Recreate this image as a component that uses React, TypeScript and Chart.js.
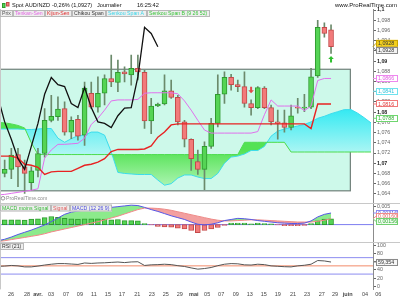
import React, { useEffect, useRef } from "react";
import { Chart, registerables } from "chart.js";

Chart.register(...registerables);

const FONT = '"Liberation Sans", Arial, Helvetica, sans-serif';

// ---------- Price candles (x = 0..49) ----------
const opens = [
  1.0680, 1.0688, 1.0717, 1.0693, 1.0662, 1.0686, 1.0719, 1.0784, 1.0791, 1.0807,
  1.0761, 1.0786, 1.0755, 1.0837, 1.0810, 1.0837, 1.0866, 1.0858, 1.0879, 1.0873,
  1.0886, 1.0878, 1.0783, 1.0812, 1.0816, 1.0842, 1.0829, 1.0781, 1.0747, 1.0703,
  1.0688, 1.0733, 1.0778, 1.0835, 1.0868, 1.0854, 1.0850, 1.0817, 1.0809, 1.0847,
  1.0809, 1.0781, 1.0779, 1.0770, 1.0809, 1.0808, 1.0810, 1.0871, 1.0966, 1.0961,
];
const highs = [
  1.0706, 1.0729, 1.0729, 1.0706, 1.0693, 1.0729, 1.0807, 1.0833, 1.0830, 1.0820,
  1.0791, 1.0794, 1.0859, 1.0859, 1.0869, 1.0873, 1.0912, 1.0902, 1.0889, 1.0912,
  1.0912, 1.0882, 1.0827, 1.0818, 1.0873, 1.0863, 1.0833, 1.0784, 1.0748, 1.0726,
  1.0742, 1.0788, 1.0873, 1.0879, 1.0874, 1.0863, 1.0879, 1.0824, 1.0850, 1.0850,
  1.0814, 1.0804, 1.0804, 1.0814, 1.0827, 1.0835, 1.0886, 1.0980, 1.0975, 1.0971,
];
const lows = [
  1.0673, 1.0670, 1.0654, 1.0641, 1.0647, 1.0673, 1.0712, 1.0781, 1.0784, 1.0755,
  1.0748, 1.0745, 1.0735, 1.0807, 1.0800, 1.0814, 1.0850, 1.0840, 1.0859, 1.0853,
  1.0863, 1.0768, 1.0758, 1.0811, 1.0814, 1.0827, 1.0775, 1.0732, 1.0686, 1.0678,
  1.0648, 1.0729, 1.0771, 1.0817, 1.0843, 1.0840, 1.0810, 1.0794, 1.0807, 1.0807,
  1.0775, 1.0747, 1.0761, 1.0765, 1.0798, 1.0801, 1.0807, 1.0868, 1.0947, 1.0915,
];
const closes = [
  1.0688, 1.0716, 1.0693, 1.0680, 1.0685, 1.0719, 1.0784, 1.0792, 1.0806, 1.0761,
  1.0784, 1.0753, 1.0847, 1.0810, 1.0837, 1.0866, 1.0859, 1.0878, 1.0875, 1.0886,
  1.0879, 1.0783, 1.0812, 1.0816, 1.0842, 1.0829, 1.0781, 1.0747, 1.0709, 1.0688,
  1.0733, 1.0778, 1.0835, 1.0868, 1.0854, 1.0850, 1.0817, 1.0809, 1.0848, 1.0809,
  1.0781, 1.0778, 1.0770, 1.0793, 1.0808, 1.0809, 1.0869, 1.0966, 1.0954, 1.0928,
];

// ---------- Ichimoku (first value at x = -1) ----------
const lineStart = -1;
const tenkan = [
  1.0638,
  1.0639, 1.0641, 1.0643, 1.0645, 1.0647, 1.0650, 1.0710, 1.0726, 1.0737, 1.0737,
  1.0738, 1.0739, 1.0749, 1.0776, 1.0788, 1.0804, 1.0822, 1.0824, 1.0824, 1.0824,
  1.0825, 1.0837, 1.0838, 1.0838, 1.0838, 1.0838, 1.0836, 1.0822, 1.0804, 1.0784,
  1.0765, 1.0759, 1.0759, 1.0759, 1.0759, 1.0759, 1.0759, 1.0759, 1.0762, 1.0795,
  1.0824, 1.0812, 1.0812, 1.0812, 1.0812, 1.0803, 1.0812, 1.0862, 1.0866, 1.0866,
];
const kijun = [
  1.0714,
  1.0714, 1.0714, 1.0710, 1.0698, 1.0696, 1.0692, 1.0678, 1.0683, 1.0684, 1.0684,
  1.0684, 1.0690, 1.0696, 1.0698, 1.0702, 1.0709, 1.0723, 1.0727, 1.0727, 1.0727,
  1.0727, 1.0728, 1.0734, 1.0751, 1.0761, 1.0775, 1.0777, 1.0777, 1.0777, 1.0777,
  1.0777, 1.0777, 1.0777, 1.0777, 1.0777, 1.0777, 1.0777, 1.0777, 1.0777, 1.0777,
  1.0777, 1.0777, 1.0777, 1.0777, 1.0777, 1.0777, 1.0768, 1.0816, 1.0816, 1.0816,
];
const chikouShift = 26;
const cloudStart = -1;
const senkouA = [
  1.0767,
  1.0767, 1.0767, 1.0767, 1.0766, 1.0766, 1.0767, 1.0768, 1.0768, 1.0749, 1.0741,
  1.0748, 1.0754, 1.0755, 1.0761, 1.0761, 1.0755, 1.0722, 1.0682, 1.0680, 1.0679,
  1.0678, 1.0678, 1.0678, 1.0667, 1.0657, 1.0660, 1.0671, 1.0677, 1.0677, 1.0673,
  1.0670, 1.0670, 1.0680, 1.0700, 1.0712, 1.0714, 1.0718, 1.0725, 1.0725, 1.0733,
  1.0753, 1.0763, 1.0767, 1.0770, 1.0773, 1.0776, 1.0781, 1.0788, 1.0792, 1.0797,
  1.0801, 1.0805, 1.0805, 1.0798, 1.0789, 1.0779,
];
const senkouB = [
  1.0780,
  1.0779, 1.0777, 1.0774, 1.0769, 1.0740, 1.0717, 1.0717, 1.0717, 1.0717, 1.0717,
  1.0717, 1.0717, 1.0717, 1.0717, 1.0717, 1.0717, 1.0717, 1.0717, 1.0717, 1.0717,
  1.0717, 1.0717, 1.0717, 1.0717, 1.0717, 1.0717, 1.0717, 1.0717, 1.0717, 1.0717,
  1.0717, 1.0717, 1.0717, 1.0717, 1.0717, 1.0717, 1.0741, 1.0741, 1.0741, 1.0741,
  1.0741, 1.0741, 1.0741, 1.0722, 1.0722, 1.0722, 1.0722, 1.0722, 1.0722, 1.0722,
  1.0722, 1.0722, 1.0722, 1.0722, 1.0722, 1.0722,
];
const senkouAEnd = 1.0841;
const senkouBEnd = 1.0788;

// ---------- MACD (lines start at x = -1, histogram at x = 0) ----------
const macdLine = [
  -0.0044,
  -0.0040, -0.0034, -0.0027, -0.0021, -0.0015, -0.0008, -0.0001, 0.0008, 0.0018, 0.0028,
  0.0034, 0.0037, 0.0040, 0.0041, 0.0043, 0.0045, 0.0047, 0.0049, 0.0051, 0.0053,
  0.0052, 0.0047, 0.0041, 0.0036, 0.0030, 0.0024, 0.0019, 0.0014, 0.0007, 0.0001,
  -0.0001, 0.0001, 0.0005, 0.0011, 0.0014, 0.0017, 0.0016, 0.0014, 0.0011, 0.0009,
  0.0007, 0.0005, 0.0004, 0.0003, 0.0003, 0.0004, 0.0010, 0.0021, 0.0028, 0.00316,
];
const signalLine = [
  -0.0046,
  -0.0044, -0.0041, -0.0038, -0.0035, -0.0032, -0.0029, -0.0025, -0.0020, -0.0016, -0.0012,
  -0.0008, -0.0004, 0.0000, 0.0004, 0.0008, 0.0013, 0.0018, 0.0023, 0.0029, 0.0035,
  0.0041, 0.0045, 0.0045, 0.0044, 0.0042, 0.0039, 0.0035, 0.0031, 0.0027, 0.0023,
  0.0019, 0.0015, 0.0012, 0.0010, 0.0010, 0.0011, 0.0012, 0.0013, 0.0013, 0.0012,
  0.0011, 0.0010, 0.0009, 0.0008, 0.0007, 0.0007, 0.0007, 0.0009, 0.0012, 0.0016,
];
const macdHist = [
  0.0013, 0.0013, 0.0013, 0.0012, 0.0015, 0.0016, 0.0019, 0.0022, 0.0020, 0.0017,
  0.0016, 0.0015, 0.0016, 0.0016, 0.0016, 0.0015, 0.0013, 0.0014, 0.0011, 0.0011,
  0.0010, 0.0003, -0.0001, -0.0005, -0.0006, -0.0007, -0.0010, -0.0012, -0.0016, -0.0022,
  -0.0016, -0.0012, -0.0008, -0.0002, 0.0004, 0.0004, 0.0004, 0.0002, 0.0004, 0.0003,
  0.0002, -0.0001, -0.0003, -0.0003, -0.0003, -0.0002, 0.0003, 0.0010, 0.0015, 0.00156,
];

// ---------- RSI(21) (first value at x = -1) ----------
const rsi = [
  48.8,
  49.5, 51, 50, 47.5, 47.5, 49.5, 52, 54, 55.5, 55.5,
  54.5, 53.5, 57, 56, 57, 57.5, 58.5, 59.3, 58, 59.5,
  60, 51, 52.5, 53, 54, 53, 50.5, 48.5, 45, 42,
  43.5, 46, 50.5, 54, 55.5, 55, 52.5, 52, 54, 53,
  50, 49, 48, 47.5, 50, 51.5, 54, 63, 62, 59.354,
];
const rsiHigh = 70;
const rsiMid = 50;
const rsiLow = 30;

// ---------- drawings ----------
const zone = { fromX: -2, toX: 51.9, top: 1.0884, bottom: 1.0646 };
const signals = [
  { x: 37, price: 1.0843, dir: "down" },
  { x: 49, price: 1.0904, dir: "up" },
];

// ---------- axes ----------
const xTickPos = [0.95, 3.35, 5.0, 6.95, 9.2, 11.3, 13.4, 15.5, 17.6, 19.9, 22.1, 24.2, 26.3, 28.4, 30.4, 32.5, 34.7, 36.8, 38.9, 41.0, 43.3, 45.4, 47.6, 49.6, 51.5, 54.1, 56.1];
const xTickLabels = ["26", "28", "avr.", "03", "07", "09", "11", "15", "17", "21", "23", "25", "29", "mai", "05", "07", "09", "13", "15", "19", "21", "23", "27", "29", "juin", "04", "06"];
const monthLabels = ["avr.", "mai", "juin"];
const priceTicks = [1.064, 1.066, 1.068, 1.07, 1.072, 1.074, 1.076, 1.078, 1.08, 1.082, 1.084, 1.086, 1.088, 1.09, 1.092, 1.094, 1.096, 1.098, 1.1];
const macdTicks = [0.005];
const rsiTicks = [0, 20, 40, 60, 80, 100];

const X_MIN = -0.7, X_MAX = 55.3;
const PRICE_MIN = 1.06216, PRICE_MAX = 1.1002;
const MACD_MIN = -0.00484, MACD_MAX = 0.00582;
const RSI_MIN = -7.3, RSI_MAX = 107.3;

const titleParts: [string, number][] = [["Spot AUD/NZD", 12], ["-0,26% (1,0927)", 52], ["Journalier", 97], ["16:25:42", 137]];

const GREEN = "#55d455", GREEN_B = "#2f9a2f", RED = "#f27a7a", RED_B = "#c44a4a";

function fmt(v: number, d?: number) {
  const s = d === undefined ? String(+v.toFixed(6)) : v.toFixed(d);
  return s.replace(".", ",");
}

function series(arr: number[], start: number) {
  return arr.map((v, k) => ({ x: start + k, y: v }));
}

type Marker = { text: string; value: number; bg: string; border: string; fg: string; y?: number; py?: number };

function declutter(items: Marker[], gap: number) {
  items.sort((a, b) => (a.py as number) - (b.py as number));
  const clusters: { items: Marker[]; end: number }[] = [];
  for (const it of items) {
    const last = clusters[clusters.length - 1];
    if (last && (it.py as number) < last.end + gap) {
      last.items.push(it);
      last.end = last.end + gap;
    } else clusters.push({ items: [it], end: it.py as number });
  }
  for (const c of clusters) {
    const mean = c.items.reduce((s, it) => s + (it.py as number), 0) / c.items.length;
    const top = mean - ((c.items.length - 1) * gap) / 2;
    c.items.forEach((it, k) => (it.y = top + k * gap));
  }
}

function drawLegendRow(ctx: CanvasRenderingContext2D, items: [string, string][], x: number, yTop: number, h: number) {
  ctx.font = `5.2px ${FONT}`;
  ctx.textBaseline = "middle";
  ctx.textAlign = "left";
  let cx = x;
  for (const [text, color] of items) {
    const w = Math.ceil(ctx.measureText(text).width) + 4;
    ctx.fillStyle = "#eeeeee";
    ctx.fillRect(cx, yTop, w, h);
    ctx.strokeStyle = "#b9b9b9";
    ctx.lineWidth = 1;
    ctx.strokeRect(cx + 0.5, yTop + 0.5, w - 1, h - 1);
    ctx.fillStyle = color;
    ctx.fillText(text, cx + 2, yTop + h / 2 + 0.5);
    cx += w;
  }
}

function drawMarkers(ctx: CanvasRenderingContext2D, scale: any, items: Marker[], gap: number) {
  items.forEach((it) => (it.py = scale.getPixelForValue(it.value)));
  declutter(items, gap);
  ctx.font = `5.3px ${FONT}`;
  ctx.textBaseline = "middle";
  ctx.textAlign = "left";
  for (const it of items) {
    const y = it.y as number;
    ctx.strokeStyle = it.border;
    ctx.lineWidth = 1;
    ctx.beginPath();
    ctx.moveTo(373, it.py as number);
    ctx.lineTo(376, y);
    ctx.stroke();
    ctx.fillStyle = it.bg;
    ctx.fillRect(376, y - 3.5, 22, 7);
    ctx.strokeRect(376.5, Math.round(y - 3.5) + 0.5, 21, 6);
    ctx.fillStyle = it.fg;
    ctx.fillText(it.text, 378, y + 0.3);
  }
}

const decor = {
  id: "decor",
  beforeDraw(chart: any) {
    const { ctx } = chart;
    ctx.save();
    ctx.fillStyle = "#ffffff";
    ctx.fillRect(0, 0, chart.width, chart.height);
    ctx.restore();
  },
  beforeDatasetsDraw(chart: any) {
    const { ctx, chartArea, scales } = chart;
    const x = scales.x, y = scales.yMain;
    const l = x.getPixelForValue(zone.fromX), r = x.getPixelForValue(zone.toX);
    const t = y.getPixelForValue(zone.top), b = y.getPixelForValue(zone.bottom);
    ctx.save();
    ctx.beginPath();
    ctx.rect(chartArea.left, y.top, chartArea.right - chartArea.left, y.bottom - y.top);
    ctx.clip();
    ctx.fillStyle = "#cdf9ea";
    ctx.fillRect(l, t, r - l, b - t);
    ctx.strokeStyle = "#6f807a";
    ctx.lineWidth = 1.2;
    ctx.strokeRect(l, t, r - l, b - t);
    ctx.restore();
  },
  afterDatasetsDraw(chart: any) {
    const { ctx, scales } = chart;
    ctx.save();
    for (const s of signals) {
      const px = scales.x.getPixelForValue(s.x);
      const py = scales.yMain.getPixelForValue(s.price);
      const d = s.dir === "up" ? -1 : 1;
      ctx.fillStyle = s.dir === "up" ? "#2fbf2f" : "#e04a4a";
      ctx.beginPath();
      ctx.moveTo(px - 1, py - 3.5 * d);
      ctx.lineTo(px + 1, py - 3.5 * d);
      ctx.lineTo(px + 1, py);
      ctx.lineTo(px + 2.8, py);
      ctx.lineTo(px, py + 3 * d);
      ctx.lineTo(px - 2.8, py);
      ctx.lineTo(px - 1, py);
      ctx.closePath();
      ctx.fill();
    }
    ctx.restore();
  },
  afterDraw(chart: any) {
    const { ctx, scales, chartArea } = chart;
    const yM = scales.yMain, yD = scales.yMacd, yR = scales.yRsi;
    ctx.save();
    // panel separators and frame
    ctx.strokeStyle = "#c8c8c8";
    ctx.lineWidth = 1;
    ctx.beginPath();
    for (const yy of [yD.top, yR.top]) {
      ctx.moveTo(0, Math.round(yy) + 0.5);
      ctx.lineTo(400, Math.round(yy) + 0.5);
    }
    ctx.moveTo(0.5, chartArea.top);
    ctx.lineTo(0.5, chartArea.bottom);
    ctx.stroke();

    // header icon
    ctx.fillStyle = GREEN;
    ctx.strokeStyle = GREEN_B;
    ctx.fillRect(2.5, 3.5, 2.5, 4);
    ctx.strokeRect(2.5, 3.5, 2.5, 4);
    ctx.fillStyle = RED;
    ctx.strokeStyle = RED_B;
    ctx.fillRect(6.5, 2.5, 2.5, 3.5);
    ctx.strokeRect(6.5, 2.5, 2.5, 3.5);

    // header title
    ctx.font = `5.6px ${FONT}`;
    ctx.fillStyle = "#111";
    ctx.textBaseline = "middle";
    ctx.textAlign = "left";
    for (const [t, px] of titleParts) ctx.fillText(t, px, 5);
    ctx.font = `6px ${FONT}`;
    ctx.textAlign = "right";
    ctx.fillText("www.ProRealTime.com", 397, 5);

    // legends
    drawLegendRow(ctx, [["Prix", "#555"], ["Tenkan-Sen", "#e466e4"], ["Kijun-Sen", "#e02a2a"], ["Chikou Span", "#333"], ["Senkou Span A", "#3ad6ea"], ["Senkou Span B (9 26 52)", "#3cc63c"]], 0, 10, 7);
    drawLegendRow(ctx, [["MACD moins Signal", "#37b837"], ["Signal", "#e05a5a"], ["MACD (12 26 9)", "#4a4ad8"]], 0, Math.round(yD.top) + 1.5, 7);
    drawLegendRow(ctx, [["RSI (21)", "#333"]], 0, Math.round(yR.top) + 1, 7);

    // ProRealTime logo text
    ctx.font = `5.2px ${FONT}`;
    ctx.fillStyle = "#8c8c8c";
    ctx.textAlign = "left";
    ctx.textBaseline = "middle";
    ctx.fillText("ProRealTime.com", 6, yM.bottom - 5);
    ctx.strokeStyle = "#9a9a9a";
    ctx.beginPath();
    ctx.arc(3, yM.bottom - 5, 1.8, 0, Math.PI * 2);
    ctx.stroke();

    // axis value markers
    const lastClose = closes[closes.length - 1];
    drawMarkers(ctx, yM, [
      { text: fmt(lastClose, 4), value: lastClose, bg: "#f2cf1e", border: "#c9a400", fg: "#333" },
      { text: fmt(lastClose, 4), value: lastClose, bg: "#f3f3f3", border: "#8a8a8a", fg: "#333" },
      { text: fmt(tenkan[tenkan.length - 1], 4), value: tenkan[tenkan.length - 1], bg: "#ffffff", border: "#ee88ee", fg: "#e05ae0" },
      { text: fmt(senkouAEnd, 4), value: senkouAEnd, bg: "#ffffff", border: "#6fe2ee", fg: "#2fc4dc" },
      { text: fmt(kijun[kijun.length - 1], 4), value: kijun[kijun.length - 1], bg: "#ffffff", border: "#f07878", fg: "#e03a3a" },
      { text: fmt(senkouBEnd, 4), value: senkouBEnd, bg: "#ffffff", border: "#6fd66f", fg: "#2fae2f" },
    ], 7);
    const lm = macdLine[macdLine.length - 1], ls = signalLine[signalLine.length - 1], lh = macdHist[macdHist.length - 1];
    drawMarkers(ctx, yD, [
      { text: fmt(lm, 5), value: lm, bg: "#ffffff", border: "#8a8af0", fg: "#4a4ad8" },
      { text: fmt(ls, 5), value: ls, bg: "#ffffff", border: "#f08a8a", fg: "#e05a5a" },
      { text: fmt(lh, 5), value: lh, bg: "#effbef", border: "#70d070", fg: "#2fae2f" },
    ], 5);
    const lr = rsi[rsi.length - 1];
    drawMarkers(ctx, yR, [{ text: fmt(lr, 3), value: lr, bg: "#f6f6f6", border: "#8a8a8a", fg: "#333" }], 7);
    ctx.restore();
  },
};

export default function App() {
  const canvasRef = useRef<HTMLCanvasElement | null>(null);

  useEffect(() => {
    const canvas = canvasRef.current;
    if (!canvas) return;
    const g = canvas.getContext("2d") as CanvasRenderingContext2D;
    const cyanFill = g.createLinearGradient(0, 105, 0, 160);
    cyanFill.addColorStop(0, "rgb(40,232,242)");
    cyanFill.addColorStop(1, "rgb(192,248,244)");
    const greenFill = g.createLinearGradient(0, 150, 0, 190);
    greenFill.addColorStop(0, "rgb(84,226,84)");
    greenFill.addColorStop(1, "rgb(182,246,188)");

    const lineBase = { type: "line", pointRadius: 0, pointHoverRadius: 0, tension: 0, fill: false };
    const ds: any[] = [];
    const add = (d: any) => {
      ds.push(d);
      return ds.length - 1;
    };

    // ---- price panel ----
    add({ ...lineBase, label: "Chikou Span", data: series(closes.slice(chikouShift - 1), -1), borderColor: "#111", borderWidth: 1.3, yAxisID: "yMain", order: 1 });
    add({ ...lineBase, label: "Kijun-Sen", data: series(kijun, lineStart), borderColor: "#e82222", borderWidth: 1.4, yAxisID: "yMain", order: 2 });
    add({ ...lineBase, label: "Tenkan-Sen", data: series(tenkan, lineStart), borderColor: "#e070ec", borderWidth: 1, yAxisID: "yMain", order: 3 });
    add({
      type: "bar", label: "Prix",
      data: opens.map((o, i) => ({ x: i, y: [o, closes[i]] })),
      backgroundColor: (c: any) => (closes[c.dataIndex] >= opens[c.dataIndex] ? GREEN : RED),
      borderColor: (c: any) => (closes[c.dataIndex] >= opens[c.dataIndex] ? GREEN_B : RED_B),
      borderWidth: 1, borderSkipped: false, barThickness: 5, grouped: false, minBarLength: 1,
      yAxisID: "yMain", order: 4,
    });
    add({
      type: "bar", label: "Mèches",
      data: lows.map((l, i) => ({ x: i, y: [l, highs[i]] })),
      backgroundColor: "#6b8a6b", borderWidth: 0, barThickness: 1, grouped: false,
      yAxisID: "yMain", order: 5,
    });
    const iB = add({ ...lineBase, label: "Senkou Span B", data: series(senkouB, cloudStart), borderColor: "#4edc4e", borderWidth: 1, yAxisID: "yMain", order: 6 });
    add({ ...lineBase, label: "Senkou Span A", data: series(senkouA, cloudStart), borderColor: "#3cdcec", borderWidth: 1, fill: { target: iB, above: cyanFill, below: greenFill }, yAxisID: "yMain", order: 7 });

    // ---- MACD panel ----
    add({ ...lineBase, label: "MACD", data: series(macdLine, lineStart), borderColor: "#5656e6", borderWidth: 1, yAxisID: "yMacd", order: 1 });
    const iSig = add({ ...lineBase, label: "Signal", data: series(signalLine, lineStart), borderColor: "#f08888", borderWidth: 1, yAxisID: "yMacd", order: 2 });
    add({
      type: "bar", label: "MACD moins Signal",
      data: macdHist.map((v, i) => ({ x: i, y: v })),
      backgroundColor: (c: any) => (macdHist[c.dataIndex] >= 0 ? GREEN : RED),
      borderColor: (c: any) => (macdHist[c.dataIndex] >= 0 ? GREEN_B : RED_B),
      borderWidth: 1, borderSkipped: false, barThickness: 5, grouped: false,
      yAxisID: "yMacd", order: 3,
    });
    add({ ...lineBase, label: "zéro", data: [{ x: X_MIN, y: 0 }, { x: X_MAX, y: 0 }], borderColor: "#7c7cf0", borderWidth: 1, yAxisID: "yMacd", order: 4 });
    add({ ...lineBase, label: "écart", data: series(macdLine, lineStart), borderWidth: 0, borderColor: "rgba(0,0,0,0)", fill: { target: iSig, above: "rgba(128,232,128,0.9)", below: "rgba(242,150,150,0.9)" }, yAxisID: "yMacd", order: 8 });

    // ---- RSI panel ----
    add({ ...lineBase, label: "70", data: [{ x: X_MIN, y: rsiHigh }, { x: X_MAX, y: rsiHigh }], borderColor: "#8c8cf0", borderWidth: 1, yAxisID: "yRsi", order: 3 });
    add({ ...lineBase, label: "30", data: [{ x: X_MIN, y: rsiLow }, { x: X_MAX, y: rsiLow }], borderColor: "#8c8cf0", borderWidth: 1, yAxisID: "yRsi", order: 4 });
    add({ ...lineBase, label: "50", data: [{ x: X_MIN, y: rsiMid }, { x: X_MAX, y: rsiMid }], borderColor: "#f28a6a", borderWidth: 1, yAxisID: "yRsi", order: 5 });
    add({ ...lineBase, label: "RSI", data: series(rsi, lineStart), borderColor: "#555", borderWidth: 1, yAxisID: "yRsi", order: 1 });

    const yAxis = (weight: number, min: number, max: number, ticks: number[], label: (v: number) => string, major: (v: number) => boolean) => ({
      type: "linear", position: "right", stack: "panels", stackWeight: weight, min, max, bounds: "data",
      afterBuildTicks: (s: any) => { s.ticks = ticks.map((v) => ({ value: v })); },
      afterFit: (s: any) => { s.width = 27; },
      grid: { drawOnChartArea: false, drawTicks: true, tickLength: 3, color: "#666" },
      border: { display: true, color: "#8c8c8c" },
      ticks: {
        padding: 1, autoSkip: false,
        callback: (v: any) => label(Number(v)),
        font: (c: any) => ({ family: FONT, size: 5.3, weight: c.tick && major(c.tick.value) ? "bold" : "normal" }),
        color: (c: any) => (c.tick && major(c.tick.value) ? "#222" : "#666"),
      },
    });

    const chart = new Chart(canvas, {
      type: "bar",
      data: { datasets: ds },
      plugins: [decor],
      options: {
        responsive: false,
        animation: false,
        devicePixelRatio: 1,
        events: [],
        layout: { padding: { top: 9, left: 0, right: 0, bottom: 0 } },
        plugins: { legend: { display: false }, tooltip: { enabled: false } },
        scales: {
          x: {
            type: "linear", min: X_MIN, max: X_MAX, offset: false, bounds: "data",
            afterBuildTicks: (s: any) => { s.ticks = xTickPos.map((v) => ({ value: v })); },
            grid: { display: false, drawTicks: false },
            border: { display: false },
            ticks: {
              autoSkip: false, maxRotation: 0, minRotation: 0, padding: 2,
              callback: (_v: any, i: number) => xTickLabels[i],
              font: (c: any) => ({ family: FONT, size: 5.5, weight: monthLabels.includes(xTickLabels[c.index]) ? "bold" : "normal" }),
              color: "#444",
            },
          },
          yMain: yAxis(194, PRICE_MIN, PRICE_MAX, priceTicks, (v) => fmt(v), (v) => Math.abs(v * 100 - Math.round(v * 100)) < 1e-6),
          yMacd: yAxis(39, MACD_MIN, MACD_MAX, macdTicks, (v) => fmt(v), () => false),
          yRsi: yAxis(47, RSI_MIN, RSI_MAX, rsiTicks, (v) => String(v), () => false),
        },
      } as any,
    } as any);

    return () => chart.destroy();
  }, []);

  return (
    <div style={{ position: "fixed", left: 0, top: 0, width: 400, height: 300, background: "#fff" }}>
      <canvas ref={canvasRef} width={400} height={300} style={{ display: "block", width: 400, height: 300 }} />
    </div>
  );
}
